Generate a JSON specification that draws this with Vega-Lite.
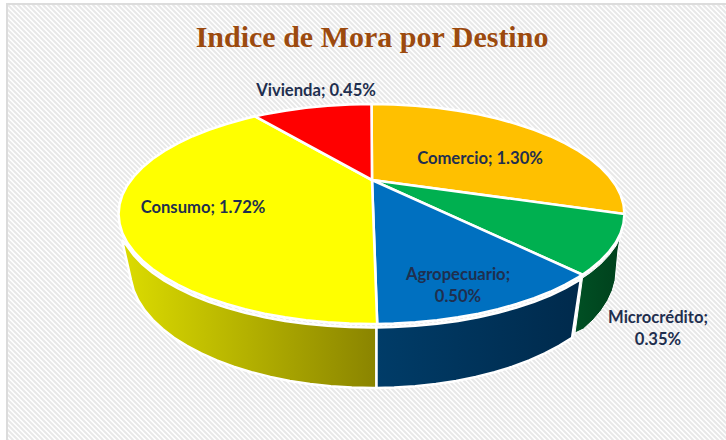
{"$schema":"https://vega.github.io/schema/vega-lite/v6.json","width":726,"height":440,"padding":0,"autosize":{"type":"none"},"background":"#ffffff","view":{"stroke":null},"title":{"text":"Indice de Mora por Destino","font":"Liberation Serif","fontSize":30,"fontWeight":"bold","color":"#9c4a0e","anchor":"middle","frame":"group","dx":9,"dy":53,"offset":0},"projection":{"type":"identity","reflectY":true,"scale":1,"translate":[372,180]},"layer":[
{"data":{"values":[{"type":"Feature","properties":{"parte":"trama"},"geometry":{"type":"MultiLineString","coordinates":[[[-800,176],[-360,-264]],[[-795,176],[-355,-264]],[[-790,176],[-350,-264]],[[-785,176],[-345,-264]],[[-780,176],[-340,-264]],[[-775,176],[-335,-264]],[[-770,176],[-330,-264]],[[-765,176],[-325,-264]],[[-760,176],[-320,-264]],[[-755,176],[-315,-264]],[[-750,176],[-310,-264]],[[-745,176],[-305,-264]],[[-740,176],[-300,-264]],[[-735,176],[-295,-264]],[[-730,176],[-290,-264]],[[-725,176],[-285,-264]],[[-720,176],[-280,-264]],[[-715,176],[-275,-264]],[[-710,176],[-270,-264]],[[-705,176],[-265,-264]],[[-700,176],[-260,-264]],[[-695,176],[-255,-264]],[[-690,176],[-250,-264]],[[-685,176],[-245,-264]],[[-680,176],[-240,-264]],[[-675,176],[-235,-264]],[[-670,176],[-230,-264]],[[-665,176],[-225,-264]],[[-660,176],[-220,-264]],[[-655,176],[-215,-264]],[[-650,176],[-210,-264]],[[-645,176],[-205,-264]],[[-640,176],[-200,-264]],[[-635,176],[-195,-264]],[[-630,176],[-190,-264]],[[-625,176],[-185,-264]],[[-620,176],[-180,-264]],[[-615,176],[-175,-264]],[[-610,176],[-170,-264]],[[-605,176],[-165,-264]],[[-600,176],[-160,-264]],[[-595,176],[-155,-264]],[[-590,176],[-150,-264]],[[-585,176],[-145,-264]],[[-580,176],[-140,-264]],[[-575,176],[-135,-264]],[[-570,176],[-130,-264]],[[-565,176],[-125,-264]],[[-560,176],[-120,-264]],[[-555,176],[-115,-264]],[[-550,176],[-110,-264]],[[-545,176],[-105,-264]],[[-540,176],[-100,-264]],[[-535,176],[-95,-264]],[[-530,176],[-90,-264]],[[-525,176],[-85,-264]],[[-520,176],[-80,-264]],[[-515,176],[-75,-264]],[[-510,176],[-70,-264]],[[-505,176],[-65,-264]],[[-500,176],[-60,-264]],[[-495,176],[-55,-264]],[[-490,176],[-50,-264]],[[-485,176],[-45,-264]],[[-480,176],[-40,-264]],[[-475,176],[-35,-264]],[[-470,176],[-30,-264]],[[-465,176],[-25,-264]],[[-460,176],[-20,-264]],[[-455,176],[-15,-264]],[[-450,176],[-10,-264]],[[-445,176],[-5,-264]],[[-440,176],[0,-264]],[[-435,176],[5,-264]],[[-430,176],[10,-264]],[[-425,176],[15,-264]],[[-420,176],[20,-264]],[[-415,176],[25,-264]],[[-410,176],[30,-264]],[[-405,176],[35,-264]],[[-400,176],[40,-264]],[[-395,176],[45,-264]],[[-390,176],[50,-264]],[[-385,176],[55,-264]],[[-380,176],[60,-264]],[[-375,176],[65,-264]],[[-370,176],[70,-264]],[[-365,176],[75,-264]],[[-360,176],[80,-264]],[[-355,176],[85,-264]],[[-350,176],[90,-264]],[[-345,176],[95,-264]],[[-340,176],[100,-264]],[[-335,176],[105,-264]],[[-330,176],[110,-264]],[[-325,176],[115,-264]],[[-320,176],[120,-264]],[[-315,176],[125,-264]],[[-310,176],[130,-264]],[[-305,176],[135,-264]],[[-300,176],[140,-264]],[[-295,176],[145,-264]],[[-290,176],[150,-264]],[[-285,176],[155,-264]],[[-280,176],[160,-264]],[[-275,176],[165,-264]],[[-270,176],[170,-264]],[[-265,176],[175,-264]],[[-260,176],[180,-264]],[[-255,176],[185,-264]],[[-250,176],[190,-264]],[[-245,176],[195,-264]],[[-240,176],[200,-264]],[[-235,176],[205,-264]],[[-230,176],[210,-264]],[[-225,176],[215,-264]],[[-220,176],[220,-264]],[[-215,176],[225,-264]],[[-210,176],[230,-264]],[[-205,176],[235,-264]],[[-200,176],[240,-264]],[[-195,176],[245,-264]],[[-190,176],[250,-264]],[[-185,176],[255,-264]],[[-180,176],[260,-264]],[[-175,176],[265,-264]],[[-170,176],[270,-264]],[[-165,176],[275,-264]],[[-160,176],[280,-264]],[[-155,176],[285,-264]],[[-150,176],[290,-264]],[[-145,176],[295,-264]],[[-140,176],[300,-264]],[[-135,176],[305,-264]],[[-130,176],[310,-264]],[[-125,176],[315,-264]],[[-120,176],[320,-264]],[[-115,176],[325,-264]],[[-110,176],[330,-264]],[[-105,176],[335,-264]],[[-100,176],[340,-264]],[[-95,176],[345,-264]],[[-90,176],[350,-264]],[[-85,176],[355,-264]],[[-80,176],[360,-264]],[[-75,176],[365,-264]],[[-70,176],[370,-264]],[[-65,176],[375,-264]],[[-60,176],[380,-264]],[[-55,176],[385,-264]],[[-50,176],[390,-264]],[[-45,176],[395,-264]],[[-40,176],[400,-264]],[[-35,176],[405,-264]],[[-30,176],[410,-264]],[[-25,176],[415,-264]],[[-20,176],[420,-264]],[[-15,176],[425,-264]],[[-10,176],[430,-264]],[[-5,176],[435,-264]],[[0,176],[440,-264]],[[5,176],[445,-264]],[[10,176],[450,-264]],[[15,176],[455,-264]],[[20,176],[460,-264]],[[25,176],[465,-264]],[[30,176],[470,-264]],[[35,176],[475,-264]],[[40,176],[480,-264]],[[45,176],[485,-264]],[[50,176],[490,-264]],[[55,176],[495,-264]],[[60,176],[500,-264]],[[65,176],[505,-264]],[[70,176],[510,-264]],[[75,176],[515,-264]],[[80,176],[520,-264]],[[85,176],[525,-264]],[[90,176],[530,-264]],[[95,176],[535,-264]],[[100,176],[540,-264]],[[105,176],[545,-264]],[[110,176],[550,-264]],[[115,176],[555,-264]],[[120,176],[560,-264]],[[125,176],[565,-264]],[[130,176],[570,-264]],[[135,176],[575,-264]],[[140,176],[580,-264]],[[145,176],[585,-264]],[[150,176],[590,-264]],[[155,176],[595,-264]],[[160,176],[600,-264]],[[165,176],[605,-264]],[[170,176],[610,-264]],[[175,176],[615,-264]],[[180,176],[620,-264]],[[185,176],[625,-264]],[[190,176],[630,-264]],[[195,176],[635,-264]],[[200,176],[640,-264]],[[205,176],[645,-264]],[[210,176],[650,-264]],[[215,176],[655,-264]],[[220,176],[660,-264]],[[225,176],[665,-264]],[[230,176],[670,-264]],[[235,176],[675,-264]],[[240,176],[680,-264]],[[245,176],[685,-264]],[[250,176],[690,-264]],[[255,176],[695,-264]],[[260,176],[700,-264]],[[265,176],[705,-264]],[[270,176],[710,-264]],[[275,176],[715,-264]],[[280,176],[720,-264]],[[285,176],[725,-264]],[[290,176],[730,-264]],[[295,176],[735,-264]],[[300,176],[740,-264]],[[305,176],[745,-264]],[[310,176],[750,-264]],[[315,176],[755,-264]],[[320,176],[760,-264]],[[325,176],[765,-264]],[[330,176],[770,-264]],[[335,176],[775,-264]],[[340,176],[780,-264]],[[345,176],[785,-264]],[[350,176],[790,-264]]]}}]},"mark":{"type":"geoshape","filled":false,"stroke":"#e8e8e8","strokeWidth":2,"clip":true},"encoding":{}},
{"data":{"values":[{"type":"Feature","properties":{"parte":"margen"},"geometry":{"type":"Polygon","coordinates":[[[-372,180],[-364,180],[-364,-260],[-372,-260],[-372,180]]]}}]},"mark":{"type":"geoshape","fill":"#ffffff","stroke":null},"encoding":{}},
{"data":{"values":[{"type":"Feature","properties":{"parte":"marco"},"geometry":{"type":"LineString","coordinates":[[-365,-260],[-365,176],[354,176]]}}]},"mark":{"type":"geoshape","filled":false,"stroke":"#dcdcdc","strokeWidth":2},"encoding":{}},
{"data":{"values":[{"type":"Feature","properties":{"destino":"Consumo","cara":"lateral"},"geometry":{"type":"Polygon","coordinates":[[[4.5,-147.5],[4.5,-208],[1,-208],[-20.2,-207.6],[-41.2,-206.2],[-61.9,-204],[-82.1,-200.9],[-101.7,-196.9],[-120.5,-192.2],[-138.4,-186.7],[-155.2,-180.4],[-170.8,-173.4],[-185.1,-165.8],[-198.1,-157.7],[-209.4,-149],[-219.2,-139.9],[-227.3,-130.4],[-233.7,-120.5],[-238.3,-110.5],[-241,-100],[-250,-60],[-244.9,-66],[-238.2,-75.1],[-229.8,-84],[-219.6,-92.5],[-207.7,-100.6],[-194.3,-108.2],[-179.4,-115.3],[-163.1,-121.8],[-145.6,-127.6],[-127,-132.8],[-107.4,-137.2],[-87,-140.9],[-66,-143.8],[-44.4,-145.8],[-22.6,-147.1],[-0.5,-147.5],[4.5,-147.5]]]}}]},"mark":{"type":"geoshape","stroke":"#ffffff","strokeWidth":2.5,"fill":{"gradient":"linear","x1":0,"y1":0,"x2":1,"y2":0,"stops":[{"offset":0,"color":"#dcdc00"},{"offset":1,"color":"#8a8400"}]}},"encoding":{}},
{"data":{"values":[{"type":"Feature","properties":{"destino":"Agropecuario","cara":"lateral"},"geometry":{"type":"Polygon","coordinates":[[[4.5,-147.5],[4.5,-208],[22.2,-207.6],[43.2,-206.2],[63.9,-204],[84.1,-200.9],[103.7,-196.9],[122.5,-192.2],[140.4,-186.7],[157.2,-180.4],[172.8,-173.4],[187.1,-165.8],[200.1,-157.7],[209,-98.5],[206.7,-100.6],[193.3,-108.2],[178.4,-115.3],[162.1,-121.8],[144.6,-127.6],[126,-132.8],[106.4,-137.2],[86,-140.9],[65,-143.8],[43.4,-145.8],[21.6,-147.1],[4.5,-147.5]]]}}]},"mark":{"type":"geoshape","stroke":"#ffffff","strokeWidth":2.5,"fill":{"gradient":"linear","x1":0,"y1":0,"x2":1,"y2":0,"stops":[{"offset":0,"color":"#003c68"},{"offset":1,"color":"#002a4c"}]}},"encoding":{}},
{"data":{"values":[{"type":"Feature","properties":{"destino":"Microcrédito","cara":"lateral"},"geometry":{"type":"Polygon","coordinates":[[[210.5,-98],[203,-153],[211.4,-149],[221.2,-139.9],[229.3,-130.4],[235.7,-120.5],[240.3,-110.5],[243.1,-100.3],[246,-70],[251,-42],[251.5,-47.1],[248.7,-56.6],[243.9,-66],[237.2,-75.1],[228.8,-84],[218.6,-92.5],[210.5,-98]]]}}]},"mark":{"type":"geoshape","stroke":"#ffffff","strokeWidth":1,"fill":{"gradient":"linear","x1":0,"y1":0,"x2":1,"y2":0,"stops":[{"offset":0,"color":"#005024"},{"offset":1,"color":"#00401c"}]}},"encoding":{}},
{"data":{"values":[
{"type":"Feature","properties":{"destino":"Comercio","valor":1.30},"geometry":{"type":"Polygon","coordinates":[[[0,0],[-0.5,76],[21.6,75.6],[43.4,74.3],[65,72.3],[86,69.4],[106.4,65.7],[126,61.3],[144.6,56.1],[162.1,50.3],[178.4,43.8],[193.3,36.7],[206.7,29.1],[218.6,21],[228.8,12.5],[237.2,3.6],[243.9,-5.5],[248.7,-14.9],[251.5,-24.4],[252.5,-34],[0,0]]]}},
{"type":"Feature","properties":{"destino":"Microcrédito","valor":0.35},"geometry":{"type":"Polygon","coordinates":[[[0,0],[252.5,-34],[251.5,-43.6],[248.7,-53.1],[243.9,-62.5],[237.2,-71.6],[228.8,-80.5],[218.6,-89],[210.5,-94.7],[0,0]]]}},
{"type":"Feature","properties":{"destino":"Agropecuario","valor":0.50},"geometry":{"type":"Polygon","coordinates":[[[0,0],[210.5,-94.7],[206.7,-97.1],[193.3,-104.7],[178.4,-111.8],[162.1,-118.3],[144.6,-124.1],[126,-129.3],[106.4,-133.7],[86,-137.4],[65,-140.3],[43.4,-142.3],[21.6,-143.6],[5.2,-144],[0,0]]]}},
{"type":"Feature","properties":{"destino":"Consumo","valor":1.72},"geometry":{"type":"Polygon","coordinates":[[[0,0],[5.2,-144],[-0.5,-144],[-22.6,-143.6],[-44.4,-142.3],[-66,-140.3],[-87,-137.4],[-107.4,-133.7],[-127,-129.3],[-145.6,-124.1],[-163.1,-118.3],[-179.4,-111.8],[-194.3,-104.7],[-207.7,-97.1],[-219.6,-89],[-229.8,-80.5],[-238.2,-71.6],[-244.9,-62.5],[-249.7,-53.1],[-252.5,-43.6],[-253.5,-34],[-252.5,-24.4],[-249.7,-14.9],[-244.9,-5.5],[-238.2,3.6],[-229.8,12.5],[-219.6,21],[-207.7,29.1],[-194.3,36.7],[-179.4,43.8],[-163.1,50.3],[-145.6,56.1],[-127,61.3],[-116.9,63.7],[0,0]]]}},
{"type":"Feature","properties":{"destino":"Vivienda","valor":0.45},"geometry":{"type":"Polygon","coordinates":[[[0,0],[-116.9,63.7],[-107.4,65.7],[-87,69.4],[-66,72.3],[-44.4,74.3],[-22.6,75.6],[-0.5,76],[0,0]]]}}
]},"mark":{"type":"geoshape","stroke":"#ffffff","strokeWidth":2.6},"encoding":{"color":{"field":"properties.destino","type":"nominal","legend":null,"scale":{"domain":["Comercio","Microcrédito","Agropecuario","Consumo","Vivienda"],"range":["#ffc000","#00b050","#0070c0","#ffff00","#ff0000"]}}}},
{"data":{"values":[
{"destino":"Comercio","valor":1.30,"etiqueta":"Comercio; 1.30%","lon":108,"lat":16},
{"destino":"Microcrédito","valor":0.35,"etiqueta":"Microcrédito;\n0.35%","lon":286,"lat":-143},
{"destino":"Agropecuario","valor":0.50,"etiqueta":"Agropecuario;\n0.50%","lon":86,"lat":-100},
{"destino":"Consumo","valor":1.72,"etiqueta":"Consumo; 1.72%","lon":-169,"lat":-33},
{"destino":"Vivienda","valor":0.45,"etiqueta":"Vivienda; 0.45%","lon":-56,"lat":84}
]},"mark":{"type":"text","font":"Lato","fontWeight":"bold","fontSize":16.6,"color":"#1f2f4f","align":"center","baseline":"alphabetic","lineBreak":"\n","lineHeight":22},"encoding":{"longitude":{"field":"lon","type":"quantitative"},"latitude":{"field":"lat","type":"quantitative"},"text":{"field":"etiqueta","type":"nominal"}}}
]}
